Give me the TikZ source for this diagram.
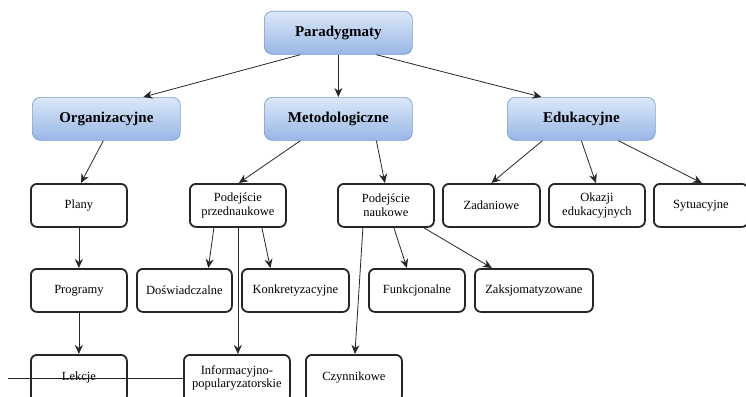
\documentclass[tikz,border=0pt]{standalone}
\usepackage{fontspec}
\setmainfont{Liberation Serif}
\usetikzlibrary{arrows.meta}
\definecolor{btop}{HTML}{DCE8F8}
\definecolor{bbot}{HTML}{98B6E6}
\definecolor{bline}{HTML}{7A9FD6}
\tikzset{
  topbox/.style={draw=bline, line width=0.7pt, rounded corners=8pt, top color=btop, bottom color=bbot,
    minimum width=148pt, minimum height=43pt, font=\rmfamily\fontsize{15}{17}\selectfont\bfseries, anchor=north west, inner sep=0pt},
  leaf/.style={draw=black!85, line width=1.8pt, rounded corners=6pt, fill=white,
    minimum height=43pt, font=\rmfamily\fontsize{12.5}{13.5}\selectfont, align=center, anchor=north west, inner sep=0pt},
  lowleaf/.style={leaf, minimum height=47pt, text depth=4pt},
  arr/.style={-{Stealth[length=9pt,width=8pt]}, line width=0.8pt, black!85}
}
\begin{document}
\begin{tikzpicture}[x=1pt,y=-1pt]
\useasboundingbox (0,0) rectangle (746,396);
% top level
\node[topbox] (par) at (264,11) {Paradygmaty};
\node[topbox] (org) at (32,97) {Organizacyjne};
\node[topbox] (met) at (264,97) {Metodologiczne};
\node[topbox] (edu) at (507,97) {Edukacyjne};
% level 2
\node[leaf, minimum width=96pt] (plany) at (30,183) {Plany};
\node[leaf, minimum width=96pt] (przed) at (189,183) {Podejście\\przednaukowe};
\node[leaf, minimum width=96pt] (nauk) at (337,183) {Podejście\\naukowe};
\node[leaf, minimum width=97pt] (zad) at (442,183) {Zadaniowe};
\node[leaf, minimum width=96pt] (oka) at (548,183) {Okazji\\edukacyjnych};
\node[leaf, minimum width=94pt] (syt) at (653,183) {Sytuacyjne};
% level 3
\node[leaf, minimum width=96pt] (prog) at (30,268) {Programy};
\node[leaf, minimum width=95pt] (dosw) at (136,268) {Doświadczalne};
\node[leaf, minimum width=107pt] (konk) at (241,268) {Konkretyzacyjne};
\node[leaf, minimum width=96pt] (funk) at (368,268) {Funkcjonalne};
\node[leaf, minimum width=118pt] (zaks) at (474,268) {Zaksjomatyzowane};
% level 4
\node[lowleaf, minimum width=96pt] (lek) at (30,354) {Lekcje};
\node[lowleaf, minimum width=106pt] (info) at (183,354) {Informacyjno-\\popularyzatorskie};
\node[lowleaf, minimum width=96pt] (czyn) at (305,354) {Czynnikowe};
% arrows
\draw[arr] ([xshift=-38pt]par.south) -- ([xshift=37pt]org.north);
\draw[arr] (par.south) -- (met.north);
\draw[arr] ([xshift=38pt]par.south) -- ([xshift=-40pt]edu.north);
\draw[arr] ([xshift=-3pt]org.south) -- ([xshift=2pt]plany.north);
\draw[arr] ([xshift=-38pt]met.south) -- ([xshift=1pt]przed.north);
\draw[arr] ([xshift=38pt]met.south) -- ([xshift=-1pt]nauk.north);
\draw[arr] ([xshift=-39pt]edu.south) -- ([xshift=0pt]zad.north);
\draw[arr] ([xshift=0pt]edu.south) -- ([xshift=-1pt]oka.north);
\draw[arr] ([xshift=37pt]edu.south) -- ([xshift=1pt]syt.north);
\draw[arr] (plany.south) -- (prog.north);
\draw[arr] (prog.south) -- (lek.north);
\draw[arr] ([xshift=-24pt]przed.south) -- ([xshift=24pt]dosw.north);
\draw[arr] ([xshift=24pt]przed.south) -- ([xshift=-25pt]konk.north);
\draw[arr] ([xshift=0pt]przed.south) -- ([xshift=1pt]info.north);
\draw[arr] ([xshift=-23pt]nauk.south) -- ([xshift=1pt]czyn.north);
\draw[arr] ([xshift=8pt]nauk.south) -- ([xshift=-10pt]funk.north);
\draw[arr] ([xshift=38pt]nauk.south) -- ([xshift=-42pt]zaks.north);
% stray line
\coordinate (lstart) at (8,378);
\draw[line width=0.8pt, black!85] (lstart) -- (info.west |- lstart);
\end{tikzpicture}
\end{document}
